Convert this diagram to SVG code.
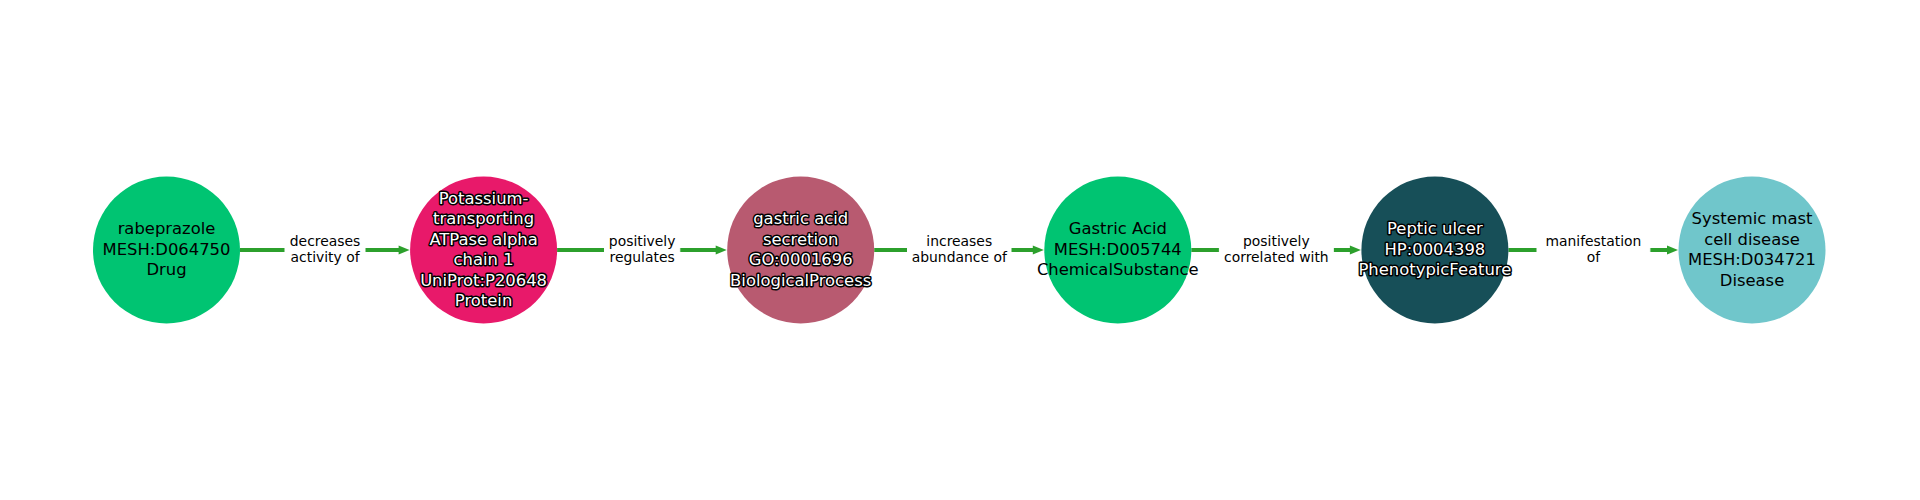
<svg xmlns="http://www.w3.org/2000/svg" width="1920" height="500" viewBox="0 0 1920 500">
<style>
.edge{stroke:#2ca02c;stroke-width:4;fill:none}
.head{fill:#2ca02c}
.lblbg{fill:#ffffff;stroke:#ffffff}
.elbl{font-family:"DejaVu Sans",sans-serif;font-size:13.9px;fill:#000000;text-anchor:middle}
.nlbl{font-family:"DejaVu Sans",sans-serif;font-size:16.4px;text-anchor:middle}
.dark{fill:#000000}
.light{fill:#ffffff;stroke:#000000;stroke-width:3;stroke-linejoin:round;paint-order:stroke}
</style>
<rect width="1920" height="500" fill="#ffffff"/>
<g id="connectors">
  <g id="e0">
    <line class="edge" x1="240" y1="250" x2="400" y2="250"/>
    <polygon class="head" points="409.6,250 398.6,245.5 398.6,254.5"/>
    <rect class="lblbg" x="285" y="229.5" width="80" height="41" rx="4"/>
    <text class="elbl" x="325.05" y="245.8">decreases</text>
    <text class="elbl" x="325.05" y="261.8">activity of</text>
  </g>
  <g id="e1">
    <line class="edge" x1="557.1" y1="250" x2="717" y2="250"/>
    <polygon class="head" points="726.7,250 715.7,245.5 715.7,254.5"/>
    <rect class="lblbg" x="604.5" y="229.5" width="75.3" height="41" rx="4"/>
    <text class="elbl" x="642.15" y="245.8">positively</text>
    <text class="elbl" x="642.15" y="261.8">regulates</text>
  </g>
  <g id="e2">
    <line class="edge" x1="874.2" y1="250" x2="1034" y2="250"/>
    <polygon class="head" points="1043.8,250 1032.8,245.5 1032.8,254.5"/>
    <rect class="lblbg" x="907.5" y="229.5" width="103.5" height="41" rx="4"/>
    <text class="elbl" x="959.25" y="245.8">increases</text>
    <text class="elbl" x="959.25" y="261.8">abundance of</text>
  </g>
  <g id="e3">
    <line class="edge" x1="1191.3" y1="250" x2="1351" y2="250"/>
    <polygon class="head" points="1360.9,250 1349.9,245.5 1349.9,254.5"/>
    <rect class="lblbg" x="1219.4" y="229.5" width="113.9" height="41" rx="4"/>
    <text class="elbl" x="1276.35" y="245.8">positively</text>
    <text class="elbl" x="1276.35" y="261.8">correlated with</text>
  </g>
  <g id="e4">
    <line class="edge" x1="1508.4" y1="250" x2="1668" y2="250"/>
    <polygon class="head" points="1678,250 1667,245.5 1667,254.5"/>
    <rect class="lblbg" x="1537" y="229.5" width="112.9" height="41" rx="4"/>
    <text class="elbl" x="1593.45" y="245.8">manifestation</text>
    <text class="elbl" x="1593.45" y="261.8">of</text>
  </g>
</g>
<g id="n0">
  <circle cx="166.5" cy="250" r="73.5" fill="#00c472"/>
  <text class="nlbl dark" x="166.5" y="234">rabeprazole</text>
  <text class="nlbl dark" x="166.5" y="254.5">MESH:D064750</text>
  <text class="nlbl dark" x="166.5" y="275">Drug</text>
</g>
<g id="n1">
  <circle cx="483.6" cy="250" r="73.5" fill="#e8196a"/>
  <text class="nlbl light" x="483.6" y="203.5">Potassium-</text>
  <text class="nlbl light" x="483.6" y="224">transporting</text>
  <text class="nlbl light" x="483.6" y="244.5">ATPase alpha</text>
  <text class="nlbl light" x="483.6" y="265">chain 1</text>
  <text class="nlbl light" x="483.6" y="285.5">UniProt:P20648</text>
  <text class="nlbl light" x="483.6" y="306">Protein</text>
</g>
<g id="n2">
  <circle cx="800.7" cy="250" r="73.5" fill="#b85a70"/>
  <text class="nlbl light" x="800.7" y="224">gastric acid</text>
  <text class="nlbl light" x="800.7" y="244.5">secretion</text>
  <text class="nlbl light" x="800.7" y="265">GO:0001696</text>
  <text class="nlbl light" x="800.7" y="285.5">BiologicalProcess</text>
</g>
<g id="n3">
  <circle cx="1117.8" cy="250" r="73.5" fill="#00c472"/>
  <text class="nlbl dark" x="1117.8" y="234">Gastric Acid</text>
  <text class="nlbl dark" x="1117.8" y="254.5">MESH:D005744</text>
  <text class="nlbl dark" x="1117.8" y="275">ChemicalSubstance</text>
</g>
<g id="n4">
  <circle cx="1434.9" cy="250" r="73.5" fill="#174f58"/>
  <text class="nlbl light" x="1434.9" y="234">Peptic ulcer</text>
  <text class="nlbl light" x="1434.9" y="254.5">HP:0004398</text>
  <text class="nlbl light" x="1434.9" y="275">PhenotypicFeature</text>
</g>
<g id="n5">
  <circle cx="1752" cy="250" r="73.5" fill="#70c6cb"/>
  <text class="nlbl dark" x="1752" y="224">Systemic mast</text>
  <text class="nlbl dark" x="1752" y="244.5">cell disease</text>
  <text class="nlbl dark" x="1752" y="265">MESH:D034721</text>
  <text class="nlbl dark" x="1752" y="285.5">Disease</text>
</g>
</svg>
